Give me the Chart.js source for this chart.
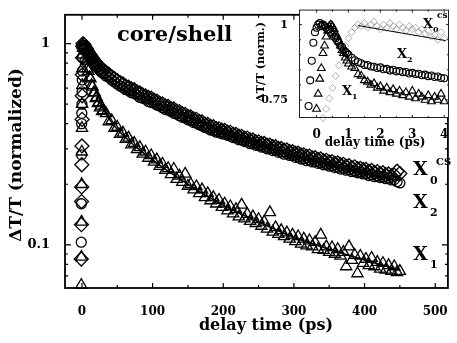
<!DOCTYPE html>
<html><head><meta charset="utf-8">
<script src="https://cdn.jsdelivr.net/npm/chart.js@4.4.0/dist/chart.umd.min.js"></script>
<style>
html,body{margin:0;padding:0;background:#fff;}
#wrap{position:relative;width:457px;height:343px;}
#main{position:absolute;left:0;top:0;}
#inset{position:absolute;left:250px;top:0;}
</style></head><body>
<div id="wrap"><canvas id="main" width="457" height="343"></canvas><canvas id="inset" width="207" height="160"></canvas></div>
<script>
const FONT = '"DejaVu Serif", "Liberation Serif", serif';

// ---------- main panel data (delay time in ps, normalized dT/T) ----------
const mainTime = [-1.0,-0.8,-0.6,-0.4,-0.2,0,0.2,0.4,0.6,0.8,1.0,
  1.5,3,4.5,6,7.5,9,10.5,12,13.5,15,16.5,18,19.5,21,22.5,24,25.5,27,28.5,30,
  34,38,42,46,50,54,58,62,66,70,
  74,78,82,86,90,94,98,102,106,110,
  114,118,122,126,130,134,138,142,146,150,
  154,158,162,166,170,174,178,182,186,190,
  194,198,202,206,210,214,218,222,226,230,
  234,238,242,246,250,254,258,262,266,270,
  274,278,282,286,290,294,298,302,306,310,
  314,318,322,326,330,334,338,342,346,350,
  354,358,362,366,370,374,378,382,386,390,
  394,398,402,406,410,414,418,422,426,430,
  434,438,442,446,450];
const mainX0 = [0.085,0.126,0.164,0.194,0.25,0.31,0.42,0.55,0.70,0.85,0.97,
  1.0,0.985,0.96,0.945,0.92,0.905,0.885,0.875,0.855,0.845,0.825,0.815,0.80,0.795,0.78,0.775,0.76,0.755,0.74,0.735,
  0.72,0.705,0.685,0.67,0.655,0.64,0.63,0.615,0.608,0.595,
  0.59,0.575,0.568,0.556,0.55,0.54,0.535,0.523,0.518,0.506,
  0.502,0.49,0.487,0.476,0.473,0.462,0.459,0.448,0.445,0.435,
  0.432,0.422,0.42,0.41,0.408,0.398,0.396,0.387,0.386,0.378,
  0.377,0.371,0.37,0.363,0.362,0.355,0.354,0.347,0.346,0.339,
  0.339,0.332,0.332,0.325,0.325,0.319,0.319,0.313,0.313,0.307,
  0.307,0.301,0.301,0.295,0.296,0.29,0.29,0.285,0.285,0.28,
  0.28,0.275,0.276,0.27,0.271,0.266,0.267,0.262,0.263,0.258,
  0.259,0.254,0.255,0.25,0.251,0.246,0.247,0.242,0.244,0.239,
  0.24,0.236,0.237,0.232,0.234,0.229,0.231,0.226,0.228,0.223,
  0.225,0.22,0.222,0.232,0.226];
const mainX2 = [0.103,0.16,0.28,0.40,0.45,0.50,0.575,0.66,0.73,0.85,0.96,
  0.98,0.955,0.94,0.91,0.90,0.87,0.865,0.84,0.835,0.81,0.805,0.785,0.78,0.765,0.76,0.745,0.74,0.725,0.72,0.71,
  0.69,0.68,0.66,0.645,0.63,0.615,0.605,0.59,0.585,0.57,
  0.565,0.555,0.54,0.535,0.53,0.515,0.51,0.505,0.495,0.49,
  0.48,0.47,0.468,0.46,0.45,0.447,0.438,0.43,0.428,0.418,
  0.415,0.405,0.403,0.395,0.39,0.383,0.38,0.372,0.37,0.363,
  0.362,0.356,0.355,0.35,0.347,0.341,0.34,0.333,0.332,0.326,
  0.325,0.318,0.318,0.312,0.312,0.306,0.306,0.30,0.30,0.294,
  0.295,0.288,0.289,0.282,0.284,0.278,0.278,0.272,0.273,0.267,
  0.268,0.262,0.264,0.258,0.259,0.254,0.255,0.25,0.251,0.246,
  0.247,0.242,0.243,0.238,0.24,0.235,0.236,0.231,0.232,0.228,
  0.229,0.225,0.226,0.221,0.223,0.218,0.22,0.216,0.217,0.213,
  0.214,0.21,0.211,0.206,0.203];
const mainX1 = [0.063,0.087,0.13,0.20,0.29,0.38,0.50,0.62,0.75,0.88,0.98,
  0.95,0.92,0.85,0.82,0.75,0.73,0.68,0.67,0.62,0.61,0.57,0.57,0.535,0.54,0.505,0.51,0.48,0.49,0.46,0.465,
  0.45,0.41,0.415,0.38,0.385,0.355,0.36,0.335,0.34,0.315,
  0.32,0.298,0.305,0.283,0.29,0.27,0.278,0.258,0.265,0.246,
  0.252,0.235,0.24,0.224,0.238,0.212,0.22,0.205,0.225,0.196,
  0.20,0.188,0.195,0.18,0.188,0.172,0.18,0.166,0.172,0.16,
  0.167,0.154,0.16,0.148,0.155,0.143,0.15,0.138,0.158,0.135,
  0.142,0.131,0.138,0.128,0.134,0.124,0.13,0.12,0.145,0.116,
  0.122,0.113,0.118,0.11,0.115,0.107,0.112,0.104,0.11,0.101,
  0.107,0.099,0.105,0.098,0.103,0.095,0.112,0.094,0.098,0.092,
  0.097,0.09,0.095,0.088,0.092,0.078,0.098,0.084,0.089,0.072,
  0.088,0.081,0.085,0.079,0.086,0.078,0.082,0.076,0.081,0.075,
  0.079,0.074,0.078,0.073,0.074];
const fitTime  = [20,50,100,150,200,250,300,350,400,450];
const fitUpper = [0.78,0.64,0.515,0.43,0.365,0.318,0.28,0.252,0.228,0.208];
const fitX1    = [0.54,0.375,0.264,0.20,0.157,0.13,0.109,0.095,0.084,0.075];
const xTickLabels = [0,100,200,300,400,500];
const xMinorTicks = [50,150,250,350,450];
const yTickLabels = [0.1,1];
const yMinorTicks = [0.07,0.08,0.09,0.2,0.3,0.4,0.5,0.6,0.7,0.8,0.9];

// ---------- inset data (first 4 ps) ----------
const insetTimeX2 = [-0.25,-0.2,-0.15,-0.1,-0.05,0,0.05,0.1,0.15,0.2,0.25,0.3,0.35,0.4,0.45,0.5,0.55,0.6,0.65,0.7,0.75,0.8,0.85,0.9,0.95,1.0,
  1.1,1.2,1.3,1.4,1.5,1.6,1.7,1.8,1.9,2.0,2.1,2.2,2.3,2.4,2.5,2.6,2.7,2.8,2.9,3.0,3.1,3.2,3.3,3.4,3.5,3.6,3.7,3.8,3.9,4.0];
const insetX2 = [0.73,0.815,0.88,0.94,0.975,0.99,1.0,1.005,0.995,1.0,0.995,0.99,0.985,0.985,0.975,0.97,0.96,0.955,0.945,0.94,0.93,0.925,0.915,0.91,0.905,0.90,
  0.89,0.882,0.876,0.872,0.866,0.866,0.861,0.86,0.856,0.858,0.852,0.853,0.848,0.85,0.845,0.846,0.842,0.843,0.838,0.84,0.836,0.837,0.832,0.834,0.829,0.831,0.826,0.828,0.823,0.822];
const insetTimeX1 = [0,0.05,0.1,0.15,0.2,0.25,0.3,0.35,0.4,0.45,0.5,0.55,0.6,0.65,0.7,0.75,0.8,0.85,0.9,0.95,1.0,
  1.1,1.2,1.3,1.4,1.5,1.6,1.7,1.8,1.9,2.0,2.1,2.2,2.3,2.4,2.5,2.6,2.7,2.8,2.9,3.0,3.1,3.2,3.3,3.4,3.5,3.6,3.7,3.8,3.9,4.0];
const insetX1 = [0.72,0.77,0.82,0.855,0.905,0.93,0.96,0.98,0.995,1.0,0.995,0.985,0.97,0.96,0.945,0.93,0.915,0.905,0.89,0.88,0.87,
  0.86,0.855,0.835,0.83,0.815,0.81,0.80,0.805,0.79,0.795,0.78,0.79,0.775,0.785,0.77,0.78,0.765,0.775,0.76,0.78,0.755,0.77,0.76,0.75,0.765,0.745,0.76,0.75,0.77,0.745];
const insetTimeX0 = [0.2,0.3,0.4,0.5,0.6,0.7,0.8,0.9,1.0,1.1,1.2,
  1.3,1.4,1.5,1.6,1.7,1.8,1.9,2.0,2.1,2.2,2.3,2.4,2.5,2.6,2.7,2.8,2.9,3.0,3.1,3.2,3.3,3.4,3.5,3.6,3.7,3.8,3.9,4.0];
const insetX0 = [0.69,0.72,0.755,0.79,0.83,0.865,0.90,0.93,0.955,0.975,0.99,
  1.0,0.995,1.005,0.99,1.0,1.01,0.995,0.985,1.0,0.99,1.005,0.995,0.985,1.0,0.99,0.98,0.995,0.985,0.99,0.975,0.985,0.97,0.98,0.96,0.965,0.95,0.975,0.955];
const insetFitTime = [1.3,4.05];
const insetFitX0 = [0.997,0.947];
const insetXTicks = [0,1,2,3,4];
const insetXMinor = [0.5,1.5,2.5,3.5];
const insetYTicks = [0.75,1];
const insetYMinor = [0.8,0.85,0.9,0.95];

function pts(t, v){ return t.map((x,i)=>({x:x, y:v[i]})); }
const NONE = 'rgba(0,0,0,0)';
function markers(data, style, r, color, bw){
  return {data:data, showLine:false, pointStyle:style, pointRadius:r, borderColor:color, pointBorderColor:color,
    backgroundColor:NONE, pointBackgroundColor:NONE, borderWidth:bw, pointBorderWidth:bw, clip:false};
}
function fitLine(data, bw){
  return {data:data, showLine:true, borderColor:'#000', borderWidth:bw, pointRadius:0, tension:0.4, fill:false};
}
function tickFont(size){ return {family:FONT, size:size, weight:'bold'}; }

const mainDecor = {
  id:'mainDecor',
  afterDatasetsDraw(chart){
    const {ctx, chartArea:a, scales:{x, y}} = chart;
    ctx.save();
    ctx.strokeStyle = '#000';
    ctx.lineWidth = 1.2;
    ctx.beginPath();
    const tx = (v,len)=>{ const p = x.getPixelForValue(v); ctx.moveTo(p,a.bottom); ctx.lineTo(p,a.bottom-len); ctx.moveTo(p,a.top); ctx.lineTo(p,a.top+len); };
    const ty = (v,len)=>{ const p = y.getPixelForValue(v); ctx.moveTo(a.left,p); ctx.lineTo(a.left+len,p); ctx.moveTo(a.right,p); ctx.lineTo(a.right-len,p); };
    xTickLabels.forEach(v=>tx(v,5)); xMinorTicks.forEach(v=>tx(v,3));
    yTickLabels.forEach(v=>ty(v,6)); yMinorTicks.forEach(v=>ty(v,3));
    ctx.stroke();
    ctx.lineWidth = 1.8;
    ctx.strokeRect(a.left, a.top, a.right-a.left, a.bottom-a.top);
    ctx.fillStyle = '#000';
    ctx.textBaseline = 'alphabetic';
    ctx.textAlign = 'left';
    ctx.font = 'bold 21px '+FONT; ctx.fillText('core/shell', 117, 41);
    ctx.font = 'bold 19px '+FONT;
    ctx.fillText('X', 413, 175); ctx.fillText('X', 413, 208); ctx.fillText('X', 413, 260);
    ctx.font = 'bold 11px '+FONT;
    ctx.fillText('0', 430, 184); ctx.fillText('2', 430, 216); ctx.fillText('1', 430, 268);
    ctx.font = 'bold 10px '+FONT; ctx.fillText('CS', 436, 165);
    ctx.textAlign = 'center';
    ctx.font = 'bold 16px '+FONT; ctx.fillText('delay time (ps)', 266, 330);
    ctx.translate(17, 155); ctx.rotate(-Math.PI/2);
    ctx.textBaseline = 'middle';
    ctx.font = 'bold 17px '+FONT; ctx.fillText('\u0394T/T (normalized)', 0, 0);
    ctx.restore();
  }
};

new Chart(document.getElementById('main'), {
  type:'scatter',
  data:{datasets:[
    fitLine(pts(fitTime, fitUpper), 1.5),
    fitLine(pts(fitTime, fitX1), 1.5),
    markers(pts(mainTime, mainX2), 'circle', 5, '#000', 1.3),
    markers(pts(mainTime, mainX0), 'rectRot', 7, '#000', 1.3),
    markers(pts(mainTime, mainX1), 'triangle', 6.5, '#000', 1.3)
  ]},
  options:{
    responsive:false, animation:false, devicePixelRatio:1, events:[],
    layout:{padding:{top:5, right:1, left:0, bottom:0}},
    plugins:{legend:{display:false}, tooltip:{enabled:false}},
    scales:{
      x:{type:'linear', min:-24, max:518, grid:{display:false}, border:{display:false},
        afterBuildTicks:s=>{ s.ticks = xTickLabels.map(v=>({value:v})); },
        afterFit:s=>{ s.height = 55; },
        ticks:{color:'#000', font:tickFont(12), padding:9, maxRotation:0, autoSkip:false, callback:v=>String(v)}},
      y:{type:'logarithmic', min:0.061, max:1.39, grid:{display:false}, border:{display:false},
        afterBuildTicks:s=>{ s.ticks = yTickLabels.map(v=>({value:v})); },
        afterFit:s=>{ s.width = 65; },
        ticks:{color:'#000', font:tickFont(13), padding:7, autoSkip:false, callback:v=>String(v)}}
    }
  },
  plugins:[mainDecor]
});

const insetDecor = {
  id:'insetDecor',
  beforeDatasetsDraw(chart){
    const {ctx, chartArea:a} = chart;
    ctx.save(); ctx.fillStyle = '#fff'; ctx.fillRect(a.left, a.top, a.right-a.left, a.bottom-a.top); ctx.restore();
  },
  afterDatasetsDraw(chart){
    const {ctx, chartArea:a, scales:{x, y}} = chart;
    ctx.save();
    ctx.strokeStyle = '#222';
    ctx.lineWidth = 1;
    ctx.beginPath();
    const tx = (v,len)=>{ const p = x.getPixelForValue(v); ctx.moveTo(p,a.bottom); ctx.lineTo(p,a.bottom-len); ctx.moveTo(p,a.top); ctx.lineTo(p,a.top+len); };
    const ty = (v,len)=>{ const p = y.getPixelForValue(v); ctx.moveTo(a.left,p); ctx.lineTo(a.left+len,p); ctx.moveTo(a.right,p); ctx.lineTo(a.right-len,p); };
    insetXTicks.forEach(v=>tx(v,3)); insetXMinor.forEach(v=>tx(v,2));
    insetYTicks.forEach(v=>ty(v,3)); insetYMinor.forEach(v=>ty(v,2));
    ctx.stroke();
    ctx.strokeRect(a.left+0.5, a.top+0.5, a.right-a.left-1, a.bottom-a.top-1);
    ctx.fillStyle = '#000';
    ctx.textAlign = 'left'; ctx.textBaseline = 'alphabetic';
    ctx.font = 'bold 13px '+FONT;
    ctx.fillText('X', 173, 28); ctx.fillText('X', 147, 58); ctx.fillText('X', 92, 95);
    ctx.font = 'bold 8px '+FONT;
    ctx.fillText('0', 183, 32); ctx.fillText('2', 157, 62); ctx.fillText('1', 102, 99);
    ctx.font = 'bold 9px '+FONT; ctx.fillText('cs', 187, 18);
    ctx.textAlign = 'center';
    ctx.font = 'bold 12px '+FONT; ctx.fillText('delay time (ps)', 125, 146);
    ctx.translate(11, 62); ctx.rotate(-Math.PI/2); ctx.textBaseline = 'middle';
    ctx.font = 'bold 11px '+FONT;
    ctx.fillText('\u0394T/T (norm.)', 0, 0);
    ctx.restore();
  }
};

new Chart(document.getElementById('inset'), {
  type:'scatter',
  data:{datasets:[
    fitLine(pts(insetFitTime, insetFitX0), 1),
    markers(pts(insetTimeX2, insetX2), 'circle', 3.5, '#000', 1.1),
    markers(pts(insetTimeX1, insetX1), 'triangle', 4.5, '#000', 1.1),
    markers(pts(insetTimeX0, insetX0), 'rectRot', 3.5, '#9a9a9a', 0.8)
  ]},
  options:{
    responsive:false, animation:false, devicePixelRatio:1, events:[],
    layout:{padding:{top:9, right:8, left:0, bottom:0}},
    plugins:{legend:{display:false}, tooltip:{enabled:false}},
    scales:{
      x:{type:'linear', min:-0.55, max:4.15, grid:{display:false}, border:{display:false},
        afterBuildTicks:s=>{ s.ticks = insetXTicks.map(v=>({value:v})); },
        afterFit:s=>{ s.height = 42; },
        ticks:{color:'#000', font:tickFont(12), padding:2, maxRotation:0, autoSkip:false, callback:v=>String(v)}},
      y:{type:'linear', min:0.69, max:1.05, grid:{display:false}, border:{display:false},
        afterBuildTicks:s=>{ s.ticks = insetYTicks.map(v=>({value:v})); },
        afterFit:s=>{ s.width = 49; },
        ticks:{color:'#000', font:tickFont(11), padding:3, autoSkip:false, callback:v=>String(v)}}
    }
  },
  plugins:[insetDecor]
});
</script>
</body></html>
